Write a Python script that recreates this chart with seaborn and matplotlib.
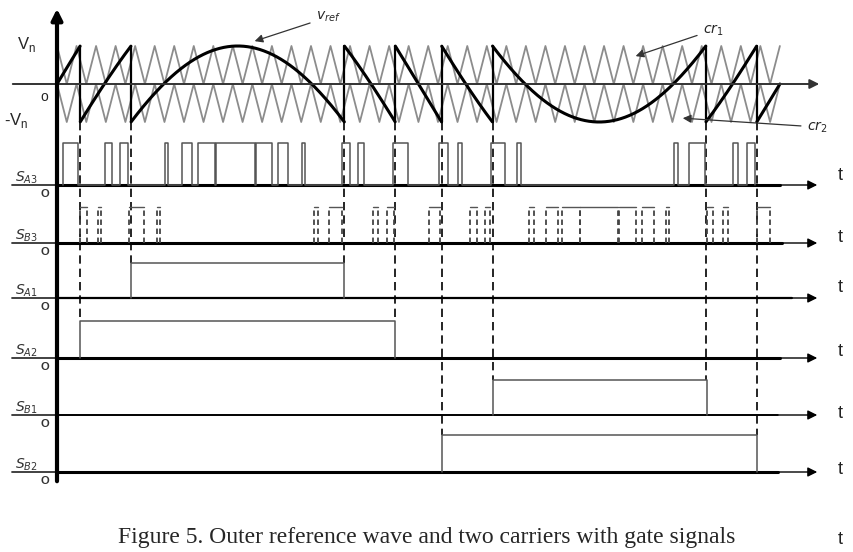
import numpy as np
import pandas as pd
import matplotlib
matplotlib.use('Agg')
import matplotlib.pyplot as plt
import seaborn as sns

sns.set_theme(style='white')
plt.rcParams['font.family'] = ['Liberation Sans', 'DejaVu Sans']

# ---- data (time in degrees of the reference period) ----
ref_amp = 5.0          # reference amplitude in Vn, folded into the [-Vn, Vn] band
n_carrier = 37         # carrier periods per reference period
jumps = [11.5, 36.9, 143.1, 168.5, 191.5, 216.9, 323.1, 348.5]
jump_rows = ['SA2', 'SA1', 'SA1', 'SA2', 'SB2', 'SB1', 'SB1', 'SB2']

sa3_pulses = [(3.0, 10.5), (24.0, 27.5), (31.5, 35.5), (54.0, 55.5), (62.5, 67.0),
              (70.0, 78.5), (79.0, 98.5), (99.0, 107.0), (110.0, 115.0), (122.0, 123.5),
              (142.0, 146.0), (150.0, 153.0), (167.5, 175.0), (190.0, 194.5), (199.5, 201.5),
              (216.0, 223.0), (229.0, 231.0), (307.5, 309.5), (314.5, 322.5), (336.5, 339.0),
              (343.5, 347.5)]
sb3_pulses = [(11.5, 15.0), (20.5, 22.0), (36.0, 43.5), (50.0, 51.5), (128.0, 130.0),
              (135.5, 142.0), (157.5, 160.0), (164.5, 168.0), (185.5, 190.5), (205.5, 209.0),
              (213.0, 215.5), (235.0, 237.5), (243.5, 249.5), (251.5, 260.5), (260.5, 279.5),
              (280.0, 288.5), (291.5, 297.5), (303.5, 305.0), (323.5, 326.5), (331.5, 334.0),
              (348.5, 355.0)]
sa1_pulses = [(36.9, 143.1)]
sa2_pulses = [(11.5, 168.5)]
sb1_pulses = [(216.9, 323.6)]
sb2_pulses = [(191.5, 348.5)]

row_names = ['SA3', 'SB3', 'SA1', 'SA2', 'SB1', 'SB2']
row_labels = [r'$S_{A3}$', r'$S_{B3}$', r'$S_{A1}$', r'$S_{A2}$', r'$S_{B1}$', r'$S_{B2}$']

# ---- layout (vertical units = pixels from top) ----
PXD = 2.008                      # pixels per degree
def tx(px):
    return (px - 57) / PXD

top_zero, vn_px = 84, 38
rows = {'SA3': (185, 42), 'SB3': (243, 36), 'SA1': (298, 35),
        'SA2': (358, 37), 'SB1': (415, 35), 'SB2': (472, 37)}
base_end = {'SA3': 780, 'SB3': 782, 'SA1': 792, 'SA2': 780, 'SB1': 778, 'SB2': 778}
base_lw = {'SA3': 2.2, 'SB3': 2.2, 'SA1': 1.6, 'SA2': 2.2, 'SB1': 1.4, 'SB2': 2.2}
pulses = {'SA3': sa3_pulses, 'SB3': sb3_pulses, 'SA1': sa1_pulses,
          'SA2': sa2_pulses, 'SB1': sb1_pulses, 'SB2': sb2_pulses}

fig = plt.figure(figsize=(8.54, 5.52), dpi=100)
ax = fig.add_axes([0, 0, 1, 1])
ax.set_xlim(tx(0), tx(854))
ax.set_ylim(552, 0)
ax.axis('off')

# ---- carriers ----
half = 360 / n_carrier / 2
tv = np.arange(0, 2 * n_carrier + 1) * half
cr1 = np.where(np.arange(len(tv)) % 2 == 0, 1.0, 0.0)
cr2 = cr1 - 1.0
car = pd.DataFrame({'t': np.r_[tv, tv], 'v': np.r_[cr1, cr2],
                    'seg': ['cr1'] * len(tv) + ['cr2'] * len(tv)})
car['y'] = top_zero - vn_px * car['v']
sns.lineplot(data=car, x='t', y='y', units='seg', estimator=None, sort=False,
             color='#8c8c8c', lw=1.3, ax=ax)

# ---- folded reference ----
t = np.linspace(0, 360, 3601)
v = ref_amp * np.sin(np.radians(t))
k = np.round(v / 2)
seg = np.r_[0, np.cumsum(np.diff(k) != 0)]
ref = pd.DataFrame({'t': t, 'y': top_zero - vn_px * (v - 2 * k), 'seg': seg})
sns.lineplot(data=ref, x='t', y='y', units='seg', estimator=None, sort=False,
             color='black', lw=2.2, ax=ax)
for j in jumps:
    ax.plot([j, j], [top_zero - vn_px, top_zero + vn_px], color='black', lw=1.6)

# ---- dashed projection lines ----
for j, r in zip(jumps, jump_rows):
    ax.plot([j, j], [top_zero + vn_px, rows[r][0] - rows[r][1]], color='black',
            lw=1.2, dashes=(5, 3))

# ---- axes ----
arrow = dict(arrowstyle='-|>', color='black', lw=1.2, mutation_scale=14)
ax.annotate('', xy=(tx(822), top_zero), xytext=(tx(10), top_zero),
            arrowprops=dict(arrow, color='#333333', lw=1.4))
ax.annotate('', xy=(0, 6), xytext=(0, 484),
            arrowprops=dict(arrowstyle='-|>', color='black', lw=3, mutation_scale=16))

ax.text(tx(17), 45, r'V$_\mathregular{n}$', fontsize=12, va='center', ha='left')
ax.text(tx(4), 120, r'-V$_\mathregular{n}$', fontsize=12, va='center', ha='left')
ax.text(tx(44), 97, 'o', fontsize=10, va='center', ha='center', color='#222222')

# ---- gate signals ----
for name, lab in zip(row_names, row_labels):
    b, h = rows[name]
    ax.plot([tx(12), 0], [b, b], color='#333333', lw=1.3)
    ax.plot([0, tx(base_end[name])], [b, b], color='black', lw=base_lw[name])
    ax.annotate('', xy=(tx(820), b), xytext=(tx(base_end[name]) - 1, b),
                arrowprops=dict(arrow, lw=1.0))
    ax.text(tx(15), b - 7, lab, fontsize=10, color='#333333', va='center', ha='left')
    ax.text(tx(45), b + 9, 'O', fontsize=8, weight='bold', color='#333333',
            va='center', ha='center')

    xs, ys = [], []
    for r, f in pulses[name]:
        xs += [r, r, f, f]
        ys += [b, b - h, b - h, b]
    if name == 'SB3':
        for r, f in pulses[name]:
            ax.plot([r, f], [b - h, b - h], color='#555555', lw=1.0)
            for e in (r, f):
                ax.plot([e, e], [b, b - h], color='#444444', lw=1.3, dashes=(3, 2))
    else:
        g = pd.DataFrame({'t': xs, 'y': ys})
        sns.lineplot(data=g, x='t', y='y', estimator=None, sort=False,
                     color='#555555', lw=1.1, ax=ax)

# ---- annotations ----
ann = dict(arrowstyle='-|>', color='#333333', lw=0.9, mutation_scale=12)
ax.annotate(r'$v_{ref}$', xy=(tx(252), 42), xytext=(tx(316), 17), fontsize=10,
            va='center', ha='left', arrowprops=ann)
ax.annotate(r'$cr_1$', xy=(tx(633), 57), xytext=(tx(703), 30), fontsize=10,
            va='center', ha='left', arrowprops=ann)
ax.annotate(r'$cr_2$', xy=(tx(680), 118), xytext=(tx(807), 127), fontsize=10,
            va='center', ha='left', arrowprops=ann)

for y in [175, 237, 287, 352, 414, 470, 540]:
    ax.text(tx(838), y, 't', fontsize=13, va='center', ha='left', color='#222222')

fig.text(0.5, 1 - 538 / 552, 'Figure 5. Outer reference wave and two carriers with gate signals',
         ha='center', va='center', fontsize=17, family='Liberation Serif')

fig.savefig('out.png', dpi=100)
